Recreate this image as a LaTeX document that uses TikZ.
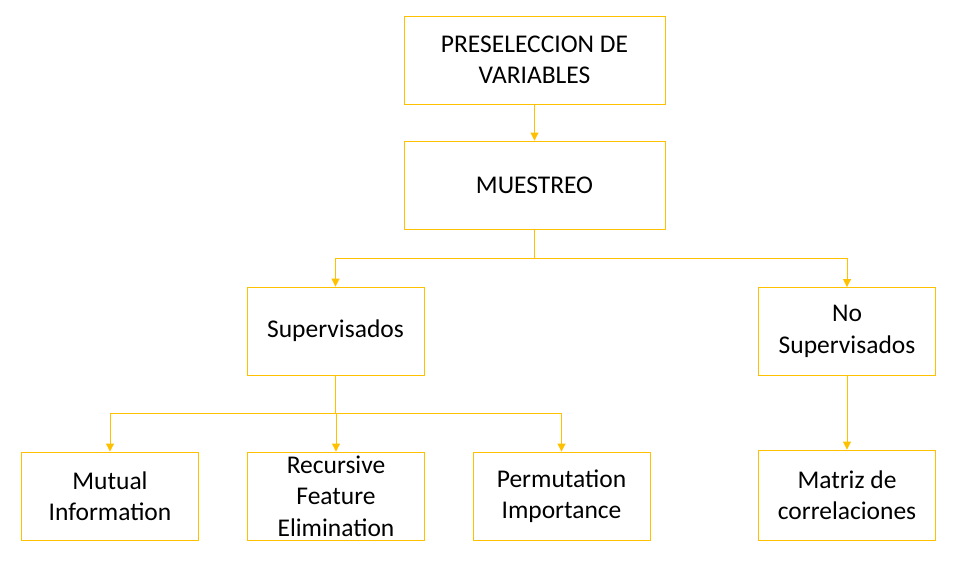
\documentclass[tikz,border=0pt]{standalone}
\usepackage{fontspec}
\setmainfont{Carlito}
\usetikzlibrary{arrows.meta}
\definecolor{gold}{HTML}{FFC000}
\tikzset{
  box/.style={draw=gold, line width=0.9pt, minimum width=#1, minimum height=88pt, inner sep=0pt, align=center, font=\fontsize{25.5}{31.5}\selectfont, text=black},
  box/.default=177pt,
  conn/.style={draw=gold, line width=0.9pt, -{Triangle[length=8pt,width=8pt]}},
  plain/.style={draw=gold, line width=0.9pt}
}
\begin{document}
\begin{tikzpicture}[x=1pt,y=1pt]
\useasboundingbox (0,0) rectangle (966,-560);
\node[box=261pt] (pre) at (534.5,-60) {PRESELECCION DE\\VARIABLES};
\node[box=261pt] (mue) at (534.5,-185) {MUESTREO};
\node[box] (sup) at (335.5,-331) {Supervisados};
\node[box] (nosup) at (847,-331.5) {No\\Supervisados};
\node[box] (mi) at (110,-496) {Mutual\\Information};
\node[box] (rfe) at (336,-496) {Recursive\\Feature\\Elimination};
\node[box] (pi) at (561.5,-496) {Permutation\\Importance};
\node[box,minimum height=90pt] (mat) at (847,-495) {Matriz de\\correlaciones};
\coordinate (j1) at (534.5,-258);
\coordinate (j2) at (335.5,-413);
\draw[conn] (pre.south) -- (mue.north);
\draw[plain] (mue.south) -- (j1);
\draw[conn] (j1) -| (sup.north);
\draw[conn] (j1) -| (nosup.north);
\draw[plain] (sup.south) -- (j2);
\draw[conn] (j2) -| (mi.north);
\draw[conn] (j2) -| (rfe.north);
\draw[conn] (j2) -| (pi.north);
\draw[conn] (nosup.south) -- (mat.north);
\end{tikzpicture}
\end{document}
